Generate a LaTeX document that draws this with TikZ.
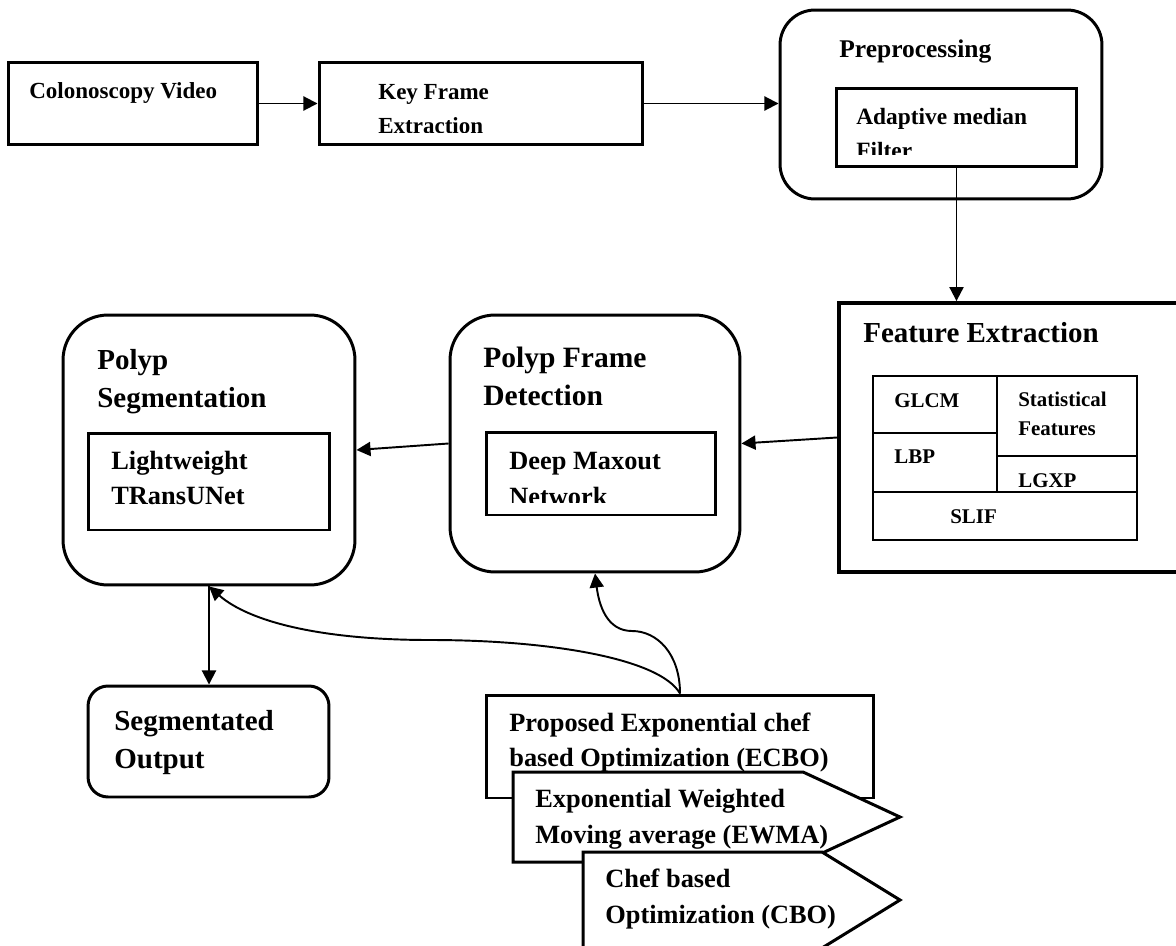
\documentclass[tikz,border=0pt]{standalone}
\usepackage{fontspec}
\setmainfont{Liberation Serif}
\usepackage{tikz}
\usetikzlibrary{arrows.meta}
\definecolor{ink}{HTML}{000000}
\definecolor{paper}{HTML}{FFFFFF}
\tikzset{
  box/.style={draw=ink, fill=paper, line width=1.7pt, inner sep=0pt},
  rbox/.style={box, rounded corners=0.9cm},
  cell/.style={draw=ink, line width=1.1pt, inner sep=0pt},
  tag/.style={draw=ink, fill=paper, line width=1.7pt, line join=miter},
  arr/.style={draw=ink, line width=1.1pt, -{Triangle[length=8pt,width=8pt]}},
  lab/.style={text=ink, anchor=base west, inner sep=0pt, align=left},
  labv/.style={lab, font=\bfseries\fontsize{13.1}{19.6}\selectfont},
  labp/.style={lab, font=\bfseries\fontsize{14.5}{18}\selectfont},
  labh/.style={lab, font=\bfseries\fontsize{16.5}{21.6}\selectfont},
  labi/.style={lab, font=\bfseries\fontsize{15}{19.6}\selectfont},
  labs/.style={lab, font=\bfseries\fontsize{11.9}{16}\selectfont},
}

\begin{document}
\begin{tikzpicture}[x=0.02cm, y=-0.02cm]
  \clip (0,0) rectangle (1176,946);

  % top row (multi-line labels sit on their last baseline)
  \node[box, minimum width=5cm, minimum height=1.66cm] (video) at (133,103.5) {};
  \node[labv] (videotxt) at (29,99) {Colonoscopy Video};
  \node[box, minimum width=6.48cm, minimum height=1.66cm] (keyframe) at (481,103.5) {};
  \begin{scope}
    \clip (319,62) rectangle (643,132);
    \node[labv] (keyframetxt) at (378,133.5) {Key Frame\\Extraction};
  \end{scope}
  \node[box, rounded corners=0.7cm, minimum width=6.44cm, minimum height=3.78cm] (preproc) at (941,104.5) {};
  \node[labp] (preproctxt) at (839,58) {Preprocessing};
  \node[box, minimum width=4.82cm, minimum height=1.58cm] (amf) at (956.5,127.5) {};
  \begin{scope}
    \clip (836,88) rectangle (1077,154);
    \node[labv, font=\bfseries\fontsize{13.3}{19.6}\selectfont] (amftxt) at (856,158.5) {Adaptive median\\Filter};
  \end{scope}

  % feature extraction
  \node[box, line width=2.2pt, minimum width=7.22cm, minimum height=5.38cm] (featext) at (1019.5,437.5) {};
  \node[labh] (featexttxt) at (863,342) {Feature Extraction};
  \node[cell, minimum width=2.48cm, minimum height=1.14cm] (glcm) at (935,404.5) {};
  \node[cell, minimum width=2.48cm, minimum height=1.18cm] (lbp) at (935,462.5) {};
  \node[cell, minimum width=2.8cm, minimum height=1.6cm] (stat) at (1067,416) {};
  \node[cell, minimum width=2.8cm, minimum height=0.72cm] (lgxp) at (1067,474) {};
  \node[cell, minimum width=5.28cm, minimum height=0.96cm] (slif) at (1005,516) {};
  \node[labs] (glcmtxt) at (894,407) {GLCM};
  \node[labs] (lbptxt) at (894,463) {LBP};
  \node[labs] (stattxt) at (1018,435) {Statistical\\Features};
  \node[labs] (lgxptxt) at (1018,487) {LGXP};
  \node[labs] (sliftxt) at (950,523) {SLIF};

  % detection and segmentation
  \node[rbox, minimum width=5.8cm, minimum height=5.14cm] (polydet) at (595,443.5) {};
  \node[labh, font=\bfseries\fontsize{16.8}{21.6}\selectfont] (polydettxt) at (483,405) {Polyp Frame\\Detection};
  \node[box, minimum width=4.6cm, minimum height=1.66cm] (dmn) at (601,473.5) {};
  \begin{scope}
    \clip (486,432) rectangle (716,502);
    \node[labi, font=\bfseries\fontsize{15}{20}\selectfont] (dmntxt) at (509,505) {Deep Maxout\\Network};
  \end{scope}
  \node[rbox, minimum width=5.84cm, minimum height=5.4cm] (polsegm) at (209,450) {};
  \node[labh] (polsegmtxt) at (97,407) {Polyp\\Segmentation};
  \node[box, minimum width=4.84cm, minimum height=1.94cm] (lwtu) at (209,481.5) {};
  \node[labi] (lwtutxt) at (111,504) {Lightweight\\TRansUNet};
  \node[box, rounded corners=0.4cm, minimum width=4.82cm, minimum height=2.22cm] (segout) at (208.5,741.5) {};
  \node[labh] (segouttxt) at (114,768) {Segmentated\\Output};

  % optimisation
  \node[box, minimum width=7.76cm, minimum height=2.06cm] (ecbo) at (680,746.5) {};
  \node[labi] (ecbotxt) at (509,766) {Proposed Exponential chef\\based Optimization (ECBO)};
  \draw[tag] (513,772) -- (803,772) -- (900,817) -- (803,862) -- (513,862) -- cycle;
  \node[labi, font=\bfseries\fontsize{15}{20}\selectfont] (ewmatxt) at (535,843) {Exponential Weighted\\Moving average (EWMA)};
  \draw[tag] (583,852) -- (822,852) -- (900,900) -- (822,948) -- (583,948) -- cycle;
  \node[labi, font=\bfseries\fontsize{15}{20}\selectfont] (cbotxt) at (605,923) {Chef based\\Optimization (CBO)};

  % connectors
  \coordinate (bend) at (430,640);
  \coordinate (kink) at (632,631);
  \draw[arr] (video) -- (keyframe);
  \draw[arr] (keyframe) -- (keyframe -| preproc.west);
  \draw[arr] (amf.south) -- (amf.south |- featext.north);
  \draw[arr] (featext.west) -- (polydet.east);
  \draw[arr] (polydet.west) -- (polsegm.east);
  \draw[arr] (polsegm.south) -- (polsegm.south |- segout.north);
  \draw[arr] (ecbo.north) .. controls +(-20,-35) and +(120,0) .. (bend) .. controls +(-110,0) and +(40,35) .. (polsegm.south);
  \draw[arr] (ecbo.north) .. controls +(0,-40) and +(25,0) .. (kink) .. controls +(-25,0) and +(4,32) .. (polydet.south);
\end{tikzpicture}
\end{document}
